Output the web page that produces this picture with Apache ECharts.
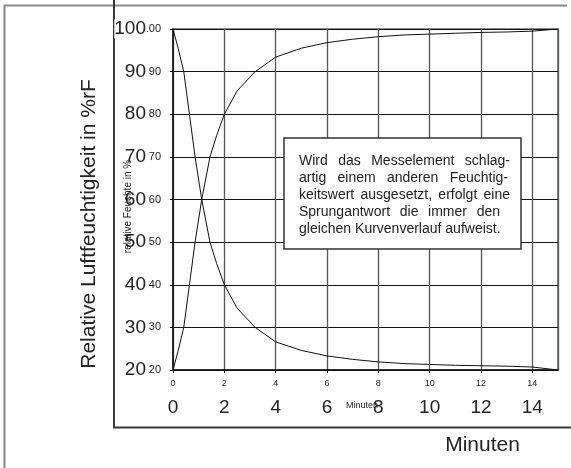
<!DOCTYPE html>
<html>
<head>
<meta charset="utf-8">
<script src="https://cdn.jsdelivr.net/npm/echarts@6/dist/echarts.min.js"></script>
<style>
  html, body { margin: 0; padding: 0; background: #fff; }
  #chart { width: 571px; height: 468px; }
</style>
</head>
<body>
<div id="chart"></div>
<script>
// Zeitpunkte (Minuten) und Verlauf der beiden Sprungantworten
var minuten = [0, 0.2, 0.42, 0.64, 0.86, 1.12, 1.44, 1.7, 2, 2.5, 3.2, 4, 5, 6, 7, 8, 9, 10, 11, 12, 13, 14, 15];
var fallend = [100, 95.5, 90, 80, 70, 60, 50, 45, 40, 34.5, 30, 26.6, 24.6, 23.3, 22.5, 21.9, 21.5, 21.3, 21.1, 21.0, 20.9, 20.7, 20];
var steigend = [20, 24.5, 30, 40, 50, 60, 70, 75, 80, 85.5, 90, 93.4, 95.5, 96.8, 97.6, 98.2, 98.6, 98.8, 99.0, 99.2, 99.3, 99.5, 100];

var infoZeilen = [
  'Wird das Messelement schlag-',
  'artig einem anderen Feuchtig-',
  'keitswert ausgesetzt, erfolgt eine',
  'Sprungantwort die immer den',
  'gleichen Kurvenverlauf aufweist.'
];

var FONT = '"Liberation Sans", Arial, sans-serif';
var TXT = '#222';

function paare(ys) {
  return minuten.map(function (t, i) { return [t, ys[i]]; });
}

// Blocksatz fuer den Infotext: Woerter einzeln setzen
var mctx = document.createElement('canvas').getContext('2d');
mctx.font = '14px ' + FONT;
var zeilenEnde = [510, 508, 510, 500, null];
var infoText = [];
infoZeilen.forEach(function (z, i) {
  var woerter = z.split(' ');
  var y = 161 + i * 17;
  var x0 = 299;
  var breiten = woerter.map(function (w) { return mctx.measureText(w).width; });
  var summe = breiten.reduce(function (a, b) { return a + b; }, 0);
  var luecke = zeilenEnde[i] ? (zeilenEnde[i] - x0 - summe) / (woerter.length - 1) : mctx.measureText(' ').width;
  var x = x0;
  woerter.forEach(function (w, k) {
    infoText.push({
      type: 'text', x: x, y: y, z: 21,
      style: { text: w, fill: TXT, font: '14px ' + FONT, textAlign: 'left', textVerticalAlign: 'middle' }
    });
    x += breiten[k] + luecke;
  });
});

var myChart = echarts.init(document.getElementById('chart'));
var option = {
  backgroundColor: '#fff',
  animation: false,
  grid: {
    left: 173, right: 13, top: 29, bottom: 98,
    show: true, borderColor: '#666', borderWidth: 1.5
  },
  xAxis: [
    {
      type: 'value', min: 0, max: 15, interval: 2,
      axisLine: { show: true, lineStyle: { color: '#111', width: 1.5 } },
      axisTick: { show: true, length: 3, lineStyle: { color: '#111' } },
      axisLabel: { fontSize: 9, margin: 9, color: TXT, fontFamily: FONT, showMaxLabel: false },
      splitLine: { show: true, lineStyle: { color: '#555', width: 1.3 } }
    },
    {
      type: 'value', min: 0, max: 15, interval: 2, position: 'bottom',
      axisLine: { show: false }, axisTick: { show: false },
      axisLabel: { fontSize: 19, margin: 28, color: TXT, fontFamily: FONT, showMaxLabel: false },
      splitLine: { show: false }
    }
  ],
  yAxis: [
    {
      type: 'value', min: 20, max: 100, interval: 10, z: 0,
      axisLine: { show: true, lineStyle: { color: '#111', width: 1.5 } },
      axisTick: { show: true, length: 3, lineStyle: { color: '#111' } },
      axisLabel: { fontSize: 11, margin: 12, color: TXT, fontFamily: FONT },
      splitLine: { show: true, lineStyle: { color: '#111', width: 1 } }
    },
    {
      type: 'value', min: 20, max: 100, interval: 10, position: 'left', z: 6,
      axisLine: { show: false }, axisTick: { show: false },
      axisLabel: { fontSize: 19, margin: 26, color: TXT, fontFamily: FONT, backgroundColor: '#fff', padding: [0, 1, 0, 0] },
      splitLine: { show: false }
    }
  ],
  series: [
    {
      type: 'line', data: paare(fallend), showSymbol: false, smooth: false,
      lineStyle: { color: '#111', width: 1 }, z: 3
    },
    {
      type: 'line', data: paare(steigend), showSymbol: false, smooth: false,
      lineStyle: { color: '#111', width: 1 }, z: 3
    }
  ],
  graphic: [
    // Rahmen
    { type: 'polyline', shape: { points: [[4.5, 468], [4.5, 5.5], [567, 5.5]] },
      style: { stroke: '#888', lineWidth: 2, fill: null }, z: 1 },
    { type: 'polyline', shape: { points: [[114, 0], [114, 427.5], [571, 427.5]] },
      style: { stroke: '#3a3a3a', lineWidth: 2, fill: null }, z: 1 },
    // Achsentitel
    { type: 'text', x: 89, y: 224, rotation: Math.PI / 2, z: 7,
      style: { text: 'Relative Luftfeuchtigkeit in %rF', fill: TXT, font: '21px ' + FONT, textAlign: 'center', textVerticalAlign: 'middle' } },
    { type: 'text', x: 128, y: 206.5, rotation: Math.PI / 2, z: 7,
      style: { text: 'relative Feuchte in %', fill: TXT, font: '10px ' + FONT, textAlign: 'center', textVerticalAlign: 'middle' } },
    { type: 'text', x: 362, y: 406, z: 7,
      style: { text: 'Minuten', fill: TXT, font: '9px ' + FONT, textAlign: 'center', textVerticalAlign: 'middle' } },
    { type: 'text', x: 482.5, y: 445, z: 7,
      style: { text: 'Minuten', fill: TXT, font: '21px ' + FONT, textAlign: 'center', textVerticalAlign: 'middle' } },
    // Infokasten
    { type: 'rect', shape: { x: 284, y: 138, width: 237, height: 111 }, z: 20,
      style: { fill: '#fff', stroke: '#333', lineWidth: 1.5 } }
  ].concat(infoText)
};
myChart.setOption(option);
</script>
</body>
</html>
